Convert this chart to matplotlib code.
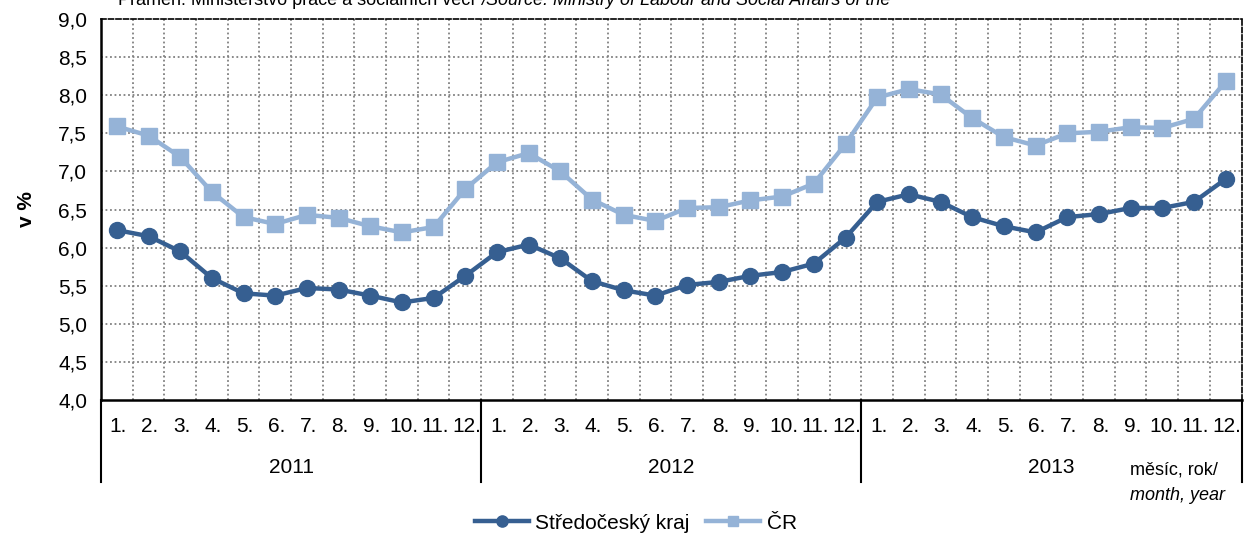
import matplotlib.pyplot as plt
import matplotlib.transforms as mtransforms

plt.rcParams['font.family'] = ['Liberation Sans', 'DejaVu Sans']

years = ['2011', '2012', '2013']
months = ['1.', '2.', '3.', '4.', '5.', '6.', '7.', '8.', '9.', '10.', '11.', '12.']

stredocesky = [6.23, 6.15, 5.95, 5.60, 5.40, 5.37, 5.47, 5.45, 5.37, 5.28, 5.34, 5.63,
               5.94, 6.04, 5.86, 5.56, 5.44, 5.37, 5.51, 5.55, 5.63, 5.68, 5.79, 6.13,
               6.60, 6.70, 6.60, 6.40, 6.28, 6.20, 6.40, 6.44, 6.52, 6.52, 6.60, 6.90]
cr = [7.59, 7.47, 7.19, 6.73, 6.40, 6.31, 6.43, 6.39, 6.28, 6.20, 6.27, 6.77,
      7.12, 7.24, 7.00, 6.63, 6.43, 6.35, 6.52, 6.53, 6.62, 6.67, 6.84, 7.36,
      7.97, 8.08, 8.01, 7.70, 7.45, 7.34, 7.50, 7.52, 7.58, 7.57, 7.69, 8.18]

y_ticks = [4.0, 4.5, 5.0, 5.5, 6.0, 6.5, 7.0, 7.5, 8.0, 8.5, 9.0]

dark = '#365f91'
light = '#95b3d7'

fig = plt.figure(figsize=(12.44, 5.37), dpi=100)
ax = fig.add_axes([0.0812, 0.2551, 0.9168, 0.7095])

x = list(range(len(stredocesky)))
ax.plot(x, stredocesky, color=dark, lw=3.2, marker='o', ms=11.5, label='Středočeský kraj', zorder=3)
ax.plot(x, cr, color=light, lw=3.2, marker='s', ms=11, label='ČR', zorder=3)

n = len(x)
ax.set_xlim(-0.5, n - 0.5)
ax.set_ylim(4, 9)
ax.set_yticks(y_ticks)
ax.set_yticklabels([f'{v:.1f}'.replace('.', ',') for v in y_ticks], fontsize=15)
ax.tick_params(axis='y', length=0, pad=10)

# grid: dotted, vertical at category boundaries
for v in y_ticks[1:-1]:
    ax.axhline(v, color='#808080', lw=1.3, ls=(0, (1, 1.5)), zorder=1)
for b in range(1, n):
    ax.axvline(b - 0.5, color='#808080', lw=1.3, ls=(0, (1, 1.5)), zorder=1)

ax.spines['left'].set_linewidth(1.8)
ax.spines['bottom'].set_linewidth(1.8)
ax.spines['top'].set_linestyle((0, (3, 1.5)))
ax.spines['top'].set_linewidth(1.2)
ax.spines['right'].set_linestyle((0, (3, 1.5)))
ax.spines['right'].set_linewidth(1.2)

# two-level category axis
ax.set_xticks([])
trans = mtransforms.blended_transform_factory(ax.transData, ax.transAxes)
for i in range(n):
    ax.text(i + 0.05, -0.07, months[i % 12], transform=trans, ha='center', va='center', fontsize=15)
for k, yr in enumerate(years):
    ax.text(k * 12 + 5.5, -0.177, yr, transform=trans, ha='center', va='center', fontsize=15)
for k in range(len(years) + 1):
    ax.plot([k * 12 - 0.5] * 2, [0, -0.215], transform=trans, color='black', lw=1.5, clip_on=False)

ax.set_ylabel('v %', fontsize=15, fontweight='bold', labelpad=16)

fig.text(0.9085, 0.125, 'měsíc, rok/', fontsize=13, ha='left', va='center')
fig.text(0.9085, 0.078, 'month, year', fontsize=13, ha='left', va='center', style='italic')

# source line, cut at the top edge as in the original
src_y = 1 - 5 / 537
t1 = fig.text(0.095, src_y, 'Pramen: Ministerstvo práce a sociálních věcí ', fontsize=13, va='baseline')
fig.canvas.draw()
bb = t1.get_window_extent()
fig.text((bb.x1 + 1) / fig.bbox.width, src_y, '/Source: Ministry of Labour and Social Affairs of the',
         fontsize=13, style='italic', va='baseline')

fig.legend(loc='center', bbox_to_anchor=(0.511, 0.026), ncol=2, frameon=False, fontsize=15,
           handlelength=2.6, columnspacing=0.8, handletextpad=0.3, markerscale=0.7)

fig.savefig('out.png', dpi=100)
